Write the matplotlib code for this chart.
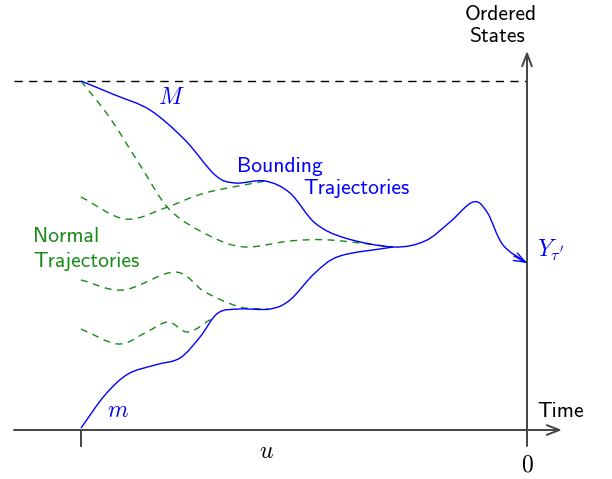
import numpy as np
import matplotlib
matplotlib.use("Agg")
import matplotlib.pyplot as plt
from matplotlib.path import Path
from matplotlib.patches import PathPatch

plt.rcParams['mathtext.fontset'] = 'cm'

# Canvas coordinates (pixels, y downwards)
W, H = 612, 479

# Trajectory control points
upper_bound = [(81, 81), (115, 95), (150, 110), (185, 140), (215, 175), (235, 183),
               (265, 181), (290, 193), (315, 223), (345, 238), (393, 247), (425, 241),
               (450, 222), (473, 202), (487, 212), (503, 245), (527, 263)]
lower_bound = [(81, 428), (105, 395), (128, 374), (155, 365), (180, 358), (200, 337),
               (218, 313), (240, 309), (270, 309), (290, 300), (315, 273), (340, 256),
               (393, 247)]
normal_1 = [(81, 81), (110, 118), (140, 165), (170, 210), (210, 236), (245, 247),
            (290, 241), (330, 240), (393, 247)]
normal_2 = [(81, 197), (125, 219), (165, 208), (205, 193), (265, 181)]
normal_3 = [(81, 280), (123, 290), (175, 272), (205, 292), (240, 307), (268, 309)]
normal_4 = [(81, 329), (118, 344), (145, 333), (168, 322), (188, 332), (213, 318)]

BLUE = '#0000ff'
GREEN = '#178a17'
AXIS = '#444444'


def smooth_path(pts):
    """Catmull-Rom curve through pts, expressed as cubic Bezier segments."""
    p = np.asarray(pts, dtype=float)
    ext = np.vstack([2 * p[0] - p[1], p, 2 * p[-1] - p[-2]])
    verts = [p[0]]
    codes = [Path.MOVETO]
    for i in range(len(p) - 1):
        p0, p1, p2, p3 = ext[i], ext[i + 1], ext[i + 2], ext[i + 3]
        c1 = p1 + (p2 - p0) / 6.0
        c2 = p2 - (p3 - p1) / 6.0
        verts += [c1, c2, p2]
        codes += [Path.CURVE4] * 3
    return Path(verts, codes)


fig = plt.figure(figsize=(W / 100, H / 100), dpi=100)
ax = fig.add_axes([0, 0, 1, 1])
ax.set_xlim(0, W)
ax.set_ylim(H, 0)
ax.axis('off')

# Axes with open arrowheads
ax.annotate('', xy=(562, 430), xytext=(14, 430),
            arrowprops=dict(arrowstyle='->,head_length=0.9,head_width=0.35',
                            color=AXIS, lw=1.4, shrinkA=0, shrinkB=0))
ax.annotate('', xy=(527, 51), xytext=(527, 446),
            arrowprops=dict(arrowstyle='->,head_length=0.9,head_width=0.35',
                            color=AXIS, lw=1.4, shrinkA=0, shrinkB=0))
ax.plot([81, 81], [430, 446], color=AXIS, lw=1.4)

# Upper level
ax.plot([14, 527], [81, 81], color='black', lw=1.0, dashes=(6, 4.5))

# Normal trajectories
for pts in (normal_1, normal_2, normal_3, normal_4):
    ax.add_patch(PathPatch(smooth_path(pts), fill=False, edgecolor=GREEN,
                           lw=1.0, linestyle=(0, (5, 4))))

# Bounding trajectories
ax.add_patch(PathPatch(smooth_path(lower_bound), fill=False, edgecolor=BLUE, lw=1.0))
ax.add_patch(PathPatch(smooth_path(upper_bound), fill=False, edgecolor=BLUE, lw=1.0))
ax.annotate('', xy=upper_bound[-1], xytext=(514, 256),
            arrowprops=dict(arrowstyle='->,head_length=0.8,head_width=0.3',
                            color=BLUE, lw=1.0, shrinkA=0, shrinkB=0))

# Labels
sans = 'cmss10'
fs = 15.5
mfs = 17
ax.text(501, 20, 'Ordered', family=sans, fontsize=fs, ha='center', va='baseline')
ax.text(497, 42, 'States', family=sans, fontsize=fs, ha='center', va='baseline')
ax.text(537, 417, 'Time', family=sans, fontsize=fs, ha='left', va='baseline')
ax.text(527, 465, r'$0$', fontsize=mfs, ha='center', va='center')
ax.text(266, 451, r'$u$', fontsize=mfs, ha='center', va='center')
ax.text(118, 410, r'$m$', fontsize=mfs, ha='center', va='center', color=BLUE)
ax.text(171, 97, r'$M$', fontsize=mfs, ha='center', va='center', color=BLUE)
ax.text(537, 257, r"$Y_{\tau'}$", fontsize=mfs, ha='left', va='baseline', color=BLUE)
ax.text(237, 172, 'Bounding', family=sans, fontsize=fs, ha='left', va='baseline', color=BLUE)
ax.text(303, 194, 'Trajectories', family=sans, fontsize=fs, ha='left', va='baseline', color=BLUE)
ax.text(33, 242, 'Normal', family=sans, fontsize=fs, ha='left', va='baseline', color=GREEN)
ax.text(33, 267, 'Trajectories', family=sans, fontsize=fs, ha='left', va='baseline', color=GREEN)

fig.savefig('out.png', dpi=100)
